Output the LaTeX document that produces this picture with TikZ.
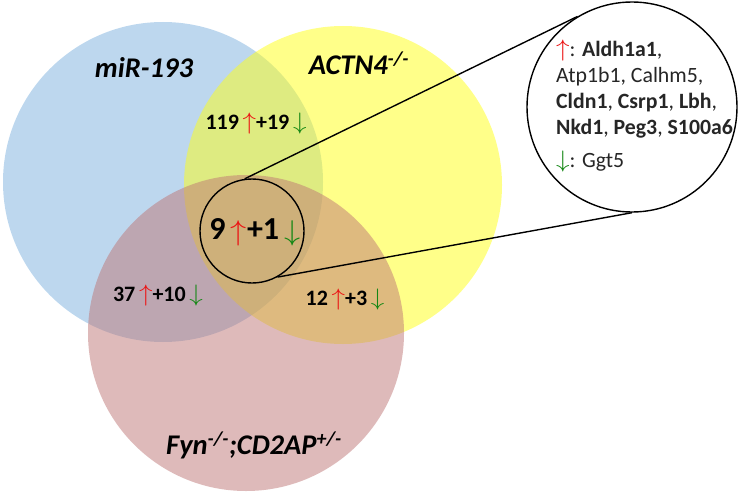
\documentclass[tikz,border=0pt]{standalone}
\usepackage{fontspec}
\usepackage{graphicx}
\setmainfont{Carlito}
\begin{document}
\begin{tikzpicture}[x=1pt,y=-1pt,
  setcirc/.style={circle,inner sep=0pt,minimum size=#1},
  numlbl/.style={font=\fontsize{22}{26}\selectfont\bfseries},
  setlbl/.style={font=\fontsize{28.5}{32}\selectfont\bfseries\itshape},
  zoomline/.style={line width=1.4pt,black}]
\definecolor{cblue}{RGB}{123,175,221}
\definecolor{cyellow}{RGB}{255,255,20}
\definecolor{cpink}{RGB}{190,118,118}
\definecolor{cred}{RGB}{235,20,20}
\definecolor{cgreen}{RGB}{20,135,20}
\newcommand{\upar}{\textcolor{cred}{\raisebox{-0.03em}{\scalebox{1.3}[1.15]{$\uparrow$}}}}
\newcommand{\dnar}{\textcolor{cgreen}{\raisebox{-0.03em}{\scalebox{1.3}[1.15]{$\downarrow$}}}}
\useasboundingbox (0,0) rectangle (746,495);
\node[setcirc=320pt,fill=cblue,fill opacity=0.5] (blue) at (163,182) {};
\node[setcirc=318pt,fill=cyellow,fill opacity=0.5] (yellow) at (343,185) {};
\node[setcirc=316pt,fill=cpink,fill opacity=0.5] (pink) at (246,333) {};
% labels
\node[setlbl] (l1) at (144,68) {miR-193};
\node[setlbl] (l2) at (359,63) {ACTN4\textsuperscript{-/-}};
\node[setlbl] (l3) at (254,445) {Fyn\textsuperscript{-/-};CD2AP\textsuperscript{+/-}};
% numbers
\node[numlbl] (n1) at (256,124) {119\,\upar+19\,\dnar};
\node[numlbl] (n2) at (158,296) {37\,\upar+10\,\dnar};
\node[numlbl] (n3) at (345,300) {12\,\upar+3\,\dnar};
% zoom circles
\node[setcirc=104pt,draw,line width=1.4pt] (small) at (252,231) {};
\node[font=\fontsize{32}{36}\selectfont\bfseries] (n4) at (255,232) {9\,\upar+1\,\dnar};
\node[setcirc=210pt,draw,line width=1.4pt,fill=white] (big) at (632,107) {};
\draw[zoomline] (small.98) -- (big.121);
\draw[zoomline] (small.-61) -- (big.-90);
\node[anchor=north west,align=left,inner sep=0pt,
  font=\fontsize{21.8}{26}\selectfont,text=black!85] (genes) at (556,40)
 {\upar: \textbf{Aldh1a1},\\
  Atp1b1, Calhm5,\\
  \textbf{Cldn1}, \textbf{Csrp1}, \textbf{Lbh},\\
  \textbf{Nkd1}, \textbf{Peg3}, \textbf{S100a6}\\[7pt]
  \dnar: Ggt5};
\end{tikzpicture}
\end{document}
